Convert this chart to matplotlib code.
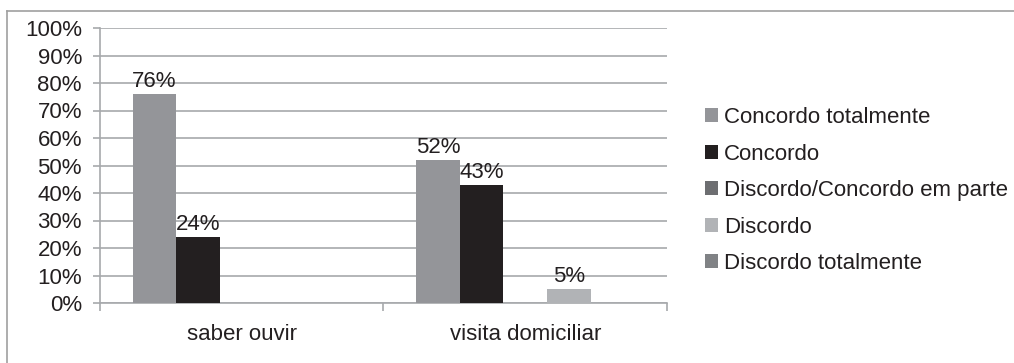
import matplotlib.pyplot as plt
import numpy as np
from matplotlib.lines import Line2D
from matplotlib.ticker import MultipleLocator, PercentFormatter

categories = ['saber ouvir', 'visita domiciliar']
series_names = [
    'Concordo totalmente',
    'Concordo',
    'Discordo/Concordo em parte',
    'Discordo',
    'Discordo totalmente',
]
concordo_totalmente = [76, 52]
concordo = [24, 43]
discordo_em_parte = [0, 0]
discordo = [0, 5]
discordo_totalmente = [0, 0]
values = [concordo_totalmente, concordo, discordo_em_parte, discordo,
          discordo_totalmente]
colors = ['#949599', '#231F20', '#6D6E71', '#B1B3B6', '#808285']

plt.rcParams['font.family'] = ['Liberation Sans', 'DejaVu Sans']
FS = 16

fig = plt.figure(figsize=(10.14, 3.63), dpi=100)
ax = fig.add_axes([100 / 1014, 1 - 303 / 363, 567 / 1014, 275 / 363])

# excel style clustered bars, gap width 150%
n = len(series_names)
bar_w = 1 / (n + 1.5)
x = np.arange(len(categories))
for i, (name, vals, col) in enumerate(zip(series_names, values, colors)):
    pos = x - 0.5 + 0.75 * bar_w + (i + 0.5) * bar_w
    bars = ax.bar(pos, vals, width=bar_w, color=col, label=name, zorder=3)
    for b, v in zip(bars, vals):
        if v > 0:
            ax.annotate(f'{v}%', (b.get_x() + b.get_width() / 2, v),
                        xytext=(0, 1.5), textcoords='offset points',
                        ha='center', va='bottom', fontsize=FS,
                        color='#231F20', zorder=4)

ax.set_xlim(-0.5, len(categories) - 0.5)
ax.set_ylim(0, 100)
ax.yaxis.set_major_locator(MultipleLocator(10))
ax.yaxis.set_major_formatter(PercentFormatter(decimals=0))
ax.grid(axis='y', color='#A7A9AC', linewidth=1.2, zorder=0)

ax.set_xticks(x)
ax.set_xticklabels(categories)
ax.set_xticks(np.arange(-0.5, len(categories)), minor=True)
ax.tick_params(axis='x', which='major', length=0, pad=15,
               labelsize=FS, labelcolor='#231F20')
ax.tick_params(axis='x', which='minor', length=6, color='#A7A9AC',
               width=1.2)
ax.tick_params(axis='y', length=5, color='#A7A9AC', width=1.2, pad=8,
               labelsize=FS, labelcolor='#231F20')

for side in ['top', 'right']:
    ax.spines[side].set_visible(False)
for side in ['left', 'bottom']:
    ax.spines[side].set_color('#A7A9AC')
    ax.spines[side].set_linewidth(1.2)

ax.legend(loc='upper left', bbox_to_anchor=(705 / 1014, 1 - 107 / 363),
          bbox_transform=fig.transFigure, frameon=False, fontsize=FS,
          handlelength=0.6, handleheight=0.6, handletextpad=0.25,
          labelspacing=0.7, borderaxespad=0, borderpad=0,
          labelcolor='#231F20')

# chart area border (cropped at right and bottom)
fig.add_artist(Line2D([7 / 1014, 7 / 1014], [0, 1 - 11 / 363],
                      transform=fig.transFigure, color='#A0A0A0', lw=1.2))
fig.add_artist(Line2D([7 / 1014, 1], [1 - 11 / 363, 1 - 11 / 363],
                      transform=fig.transFigure, color='#A0A0A0', lw=1.2))

fig.savefig('out.png', dpi=100)
